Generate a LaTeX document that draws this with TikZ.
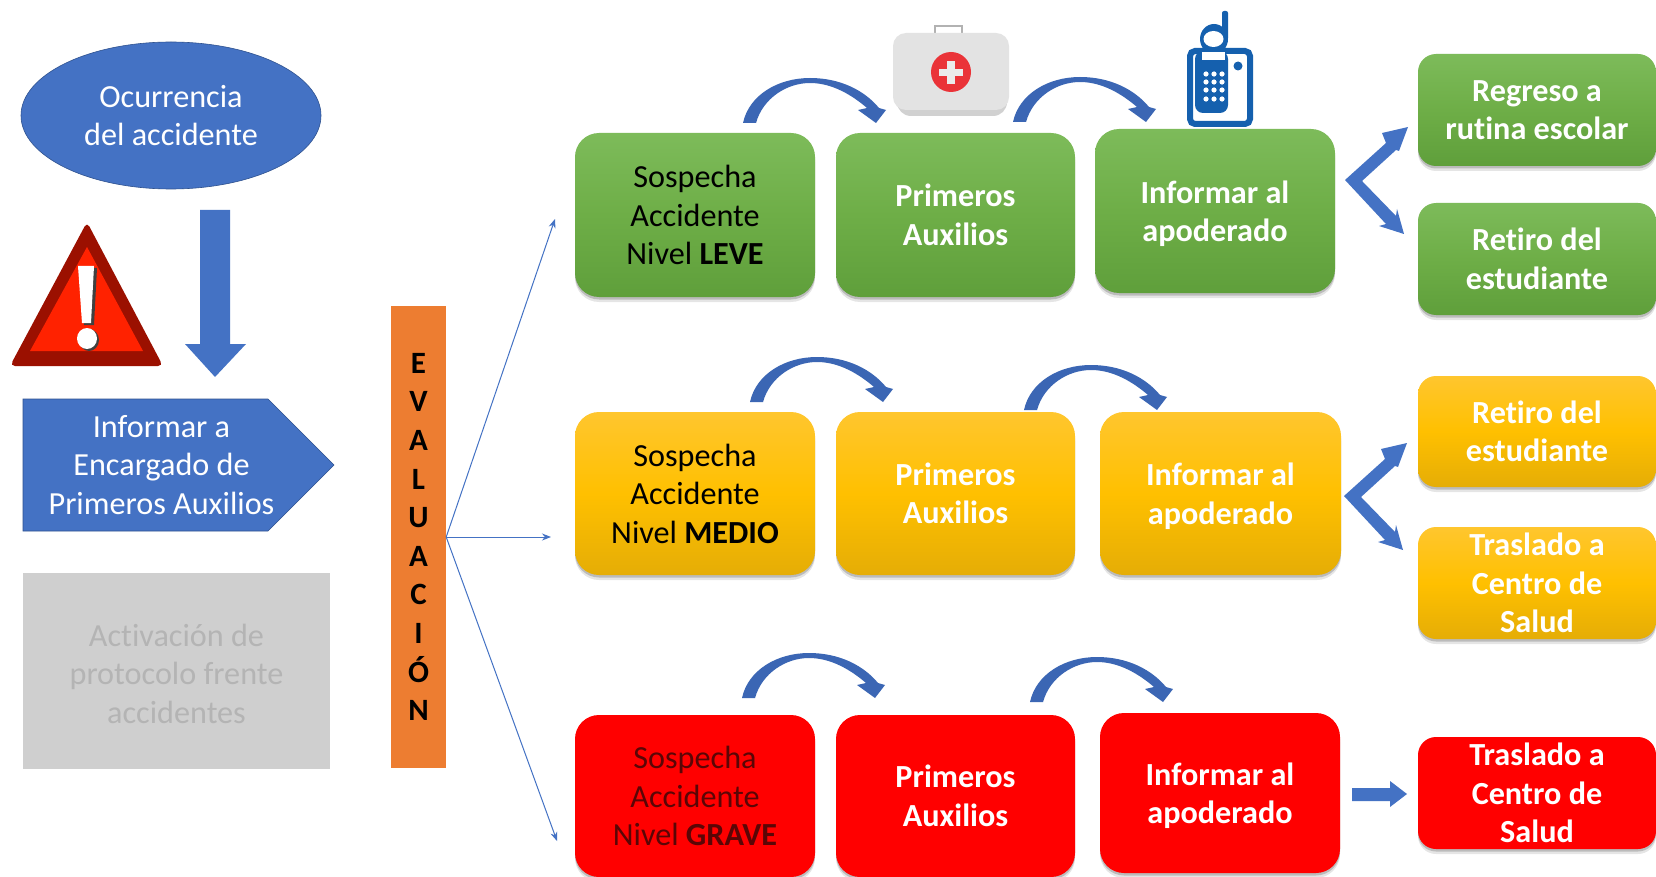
\documentclass[tikz,border=0pt]{standalone}
\usepackage{fontspec}
\setmainfont[Ligatures=NoCommon]{Carlito}
\usetikzlibrary{shapes.geometric,shadows,arrows.meta}
\definecolor{bluef}{HTML}{4472C4}
\definecolor{bluee}{HTML}{2F528F}
\definecolor{arcblue}{HTML}{3B66B4}
\definecolor{greytxt}{HTML}{B4B4B4}
\definecolor{maroon}{HTML}{5A0606}
\definecolor{greenT}{HTML}{7DBB5A}
\definecolor{greenM}{HTML}{6EAE47}
\definecolor{greenB}{HTML}{5F9F3B}
\definecolor{yellowT}{HTML}{FFC62E}
\definecolor{yellowM}{HTML}{FFC000}
\definecolor{yellowB}{HTML}{E5AD06}
\definecolor{evalorange}{HTML}{ED7D31}
\definecolor{phone}{HTML}{1560AE}
\definecolor{warnout}{HTML}{9B1000}
\definecolor{warnin}{HTML}{FF2200}
\definecolor{kitred}{HTML}{EA3338}
\tikzset{
  txt/.style={font=\fontsize{32.2}{38.5}\selectfont,align=center,inner sep=0pt},
  boldtxt/.style={font=\fontsize{32.2}{38.5}\selectfont\bfseries},
  softshadow/.style={
    drop shadow={shadow xshift=0pt,shadow yshift=-5pt,opacity=.1,fill=black},
    drop shadow={shadow xshift=0pt,shadow yshift=-2.5pt,opacity=.18,fill=black}},
  greenbox/.style={txt,rounded corners=#1,softshadow,top color=greenT,bottom color=greenB,middle color=greenM,text=white},
  yellowbox/.style={txt,rounded corners=#1,softshadow,top color=yellowT,bottom color=yellowB,middle color=yellowM,text=white},
  redbox/.style={txt,rounded corners=#1,softshadow,fill=red,text=white},
  blockarrow/.style={fill=bluef,draw=none},
  arcshape/.style={fill=arcblue,draw=none},
  fan/.style={draw=bluef,line width=1pt,-{Stealth[length=9pt,width=7pt]}}
}
\newcommand{\pushdown}{\rule{0pt}{28pt}}
% name, style, x1, y1, x2, y2, text
\newcommand{\bxx}[7]{%
  \pgfmathsetmacro{\bxcx}{(#3+#5)/2}\pgfmathsetmacro{\bxcy}{(#4+#6)/2}%
  \pgfmathsetmacro{\bxw}{#5-#3}\pgfmathsetmacro{\bxh}{#6-#4}%
  \node[#2,minimum width=\bxw pt,minimum height=\bxh pt] (#1) at (\bxcx,\bxcy) {#7};}
\newcommand{\archarrow}[2]{%
  \fill[arcshape,shift={(#1,#2)}] (0,0) .. controls (6,-28) and (35,-45) .. (67,-45)
    .. controls (98,-45) and (122,-32) .. (136,-15) -- (143,-13) -- (133,0) -- (115,-13) -- (124,-15)
    .. controls (110,-27) and (90,-40) .. (67,-40) .. controls (44,-40) and (20,-25) .. (13,0) -- cycle;}
\newcommand{\forkarrow}[2]{%
  \fill[blockarrow,shift={(#1,#2)}] (0,0) -- (41,-37) -- (37,-47) -- (63,-53) -- (54,-29) -- (51,-30)
    -- (17,1) -- (51,36) -- (52,29) -- (59,54) -- (34,46) -- (41,44) -- cycle;}
\begin{document}
\begin{tikzpicture}[x=1pt,y=-1pt]
\useasboundingbox (0,0) rectangle (1656,877);
\fill[white] (0,0) rectangle (1656,877);

% left column
\node[ellipse,fill=bluef,draw=bluee,line width=.6pt,minimum width=300pt,minimum height=147pt,txt,text=white] (ocu) at (171,115.5) {Ocurrencia\\del accidente};
\fill[blockarrow] (200,210) -- (230,210) -- (230,344) -- (246,344) -- (215,377) -- (185,344) -- (200,344) -- cycle;

% warning sign
\fill[warnout,rounded corners=5pt] (87,222) -- (163,366) -- (10,366) -- cycle;
\fill[warnin] (87,247) -- (143,351) -- (30,351) -- cycle;
\fill[black!75] (81,268) -- (97,268) -- (94,325) -- (84,325) -- cycle;
\fill[black!75] (89,340) ellipse (10 and 11);
\fill[white] (78,266) -- (94,266) -- (91,323) -- (82,323) -- cycle;
\fill[white] (87,338.5) ellipse (10 and 10.5);

\fill[fill=bluef,draw=bluee,line width=.6pt] (23,399) -- (268,399) -- (334,465) -- (268,531) -- (23,531) -- cycle;
\node[txt,text=white] (inf) at (161.5,465) {Informar a\\Encargado de\\Primeros Auxilios};
\bxx{act}{txt,fill=black!19,text=greytxt}{23}{573}{330}{769}{\pushdown Activación de\\protocolo frente\\accidentes}

% evaluation
\bxx{eval}{fill=evalorange,txt,font=\fontsize{31}{38.6}\selectfont\bfseries,text=black}{391}{306}{446}{768}{E\\V\\A\\L\\U\\A\\C\\I\\Ó\\N}
\coordinate (fanA) at (555,219);
\coordinate (fanB) at (551,537);
\coordinate (fanC) at (557,841);
\draw[fan] (eval.east) -- (fanA);
\draw[fan] (eval.east) -- (fanB);
\draw[fan] (eval.east) -- (fanC);

% green row
\bxx{g1}{greenbox=24pt,text=black}{575}{133}{815}{297}{Sospecha\\Accidente\\Nivel \textbf{LEVE}}
\bxx{g2}{greenbox=24pt,boldtxt}{836}{133}{1075}{297}{Primeros\\Auxilios}
\bxx{g3}{greenbox=24pt,boldtxt}{1095}{129}{1335}{293}{\pushdown Informar al\\apoderado}
\bxx{g4}{greenbox=18pt,boldtxt}{1418}{54}{1656}{166}{Regreso a\\rutina escolar}
\bxx{g5}{greenbox=18pt,boldtxt}{1418}{203}{1656}{315}{Retiro del\\estudiante}
\archarrow{743}{123}
\archarrow{1013}{122}
\forkarrow{1345}{180}

% yellow row
\bxx{y1}{yellowbox=24pt,text=black}{575}{412}{815}{575}{Sospecha\\Accidente\\Nivel \textbf{MEDIO}}
\bxx{y2}{yellowbox=24pt,boldtxt}{836}{412}{1075}{575}{Primeros\\Auxilios}
\bxx{y3}{yellowbox=24pt,boldtxt}{1100}{412}{1341}{575}{\pushdown Informar al\\apoderado}
\bxx{y4}{yellowbox=18pt,boldtxt}{1418}{376}{1656}{487}{Retiro del\\estudiante}
\bxx{y5}{yellowbox=18pt,boldtxt}{1418}{527}{1656}{639}{Traslado a\\Centro de\\Salud}
\archarrow{750}{402}
\archarrow{1024}{410}
\forkarrow{1344}{496}

% red row
\bxx{r1}{redbox=24pt,text=maroon}{575}{715}{815}{877}{Sospecha\\Accidente\\Nivel \textbf{GRAVE}}
\bxx{r2}{redbox=24pt,boldtxt}{836}{715}{1075}{877}{Primeros\\Auxilios}
\bxx{r3}{redbox=24pt,boldtxt}{1100}{713}{1340}{873}{\pushdown Informar al\\apoderado}
\bxx{r4}{redbox=18pt,boldtxt}{1418}{737}{1656}{849}{Traslado a\\Centro de\\Salud}
\archarrow{742}{698}
\archarrow{1030}{702}
\fill[blockarrow] (1352,788) -- (1390,788) -- (1390,781) -- (1407,794) -- (1390,807) -- (1390,801) -- (1352,801) -- cycle;

% first-aid kit
\fill[black!18,rounded corners=14pt] (897,45) rectangle (1007,116);
\draw[black!30,line width=2.5pt] (935,33) -- (935,26) -- (962,26) -- (962,33);
\fill[black!11,rounded corners=13pt] (893,33) rectangle (1009,110);
\fill[kitred] (951,72) circle (20);
\fill[black!8] (947,61) rectangle (955,84);
\fill[black!8] (939,69) rectangle (963,76);

% telephone
\draw[phone,line width=6pt,rounded corners=5pt,fill=white] (1190,51) rectangle (1250,124);
\fill[phone,rounded corners=2pt] (1222,11) rectangle (1228,40);
\fill[phone] (1214,39) ellipse (14 and 15);
\fill[white] (1213.5,39) ellipse (10 and 8);
\fill[phone,rounded corners=8pt] (1195,51) rectangle (1228,113);
\fill[white] (1202,52) rectangle (1225,60);
\foreach \kx in {1206,1214,1222}
  \foreach \ky in {74,82,90,99}
    \fill[white] (\kx,\ky) circle (2.6);
\fill[phone] (1238,66) circle (4.5);
\end{tikzpicture}
\end{document}
